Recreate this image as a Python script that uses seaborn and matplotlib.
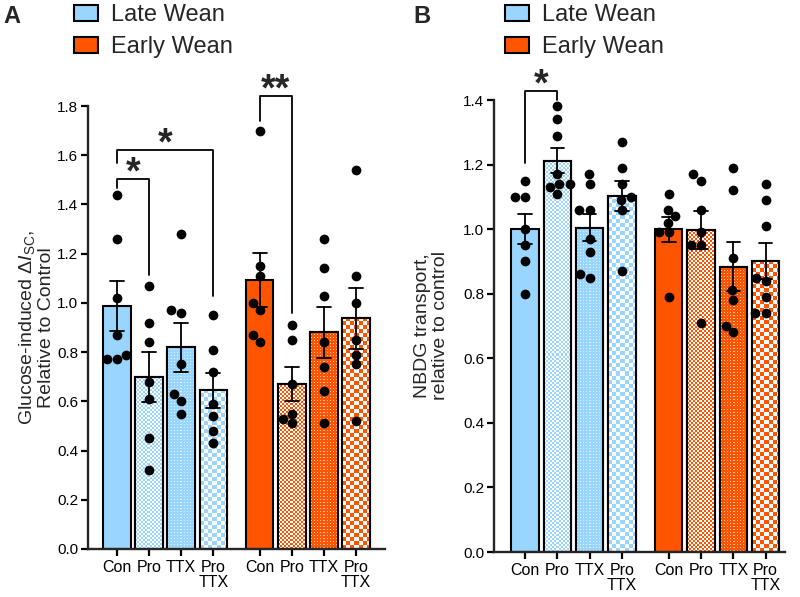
import numpy as np
import pandas as pd
import matplotlib
matplotlib.use("Agg")
import matplotlib.pyplot as plt
import seaborn as sns
from matplotlib.patches import Patch, Rectangle
from matplotlib.colors import to_rgb

sns.set_style("ticks")
plt.rcParams["font.family"] = ["Liberation Sans", "DejaVu Sans"]
plt.rcParams["mathtext.fontset"] = "custom"
plt.rcParams["mathtext.rm"] = "Liberation Sans"
plt.rcParams["mathtext.it"] = "Liberation Sans:italic"
plt.rcParams["mathtext.bf"] = "Liberation Sans:bold"

# ---------------- data ----------------
treatments = ["Con", "Pro", "TTX", "Pro\nTTX"]
groups = ["Late Wean", "Early Wean"]

# Panel A: glucose-induced dIsc relative to control (order: Con, Pro, TTX, Pro+TTX)
a_late_con = [1.44, 1.26, 1.02, 0.87, 0.79, 0.77, 0.77]
a_late_pro = [1.07, 0.92, 0.84, 0.68, 0.61, 0.45, 0.32]
a_late_ttx = [1.28, 0.96, 0.97, 0.75, 0.63, 0.55, 0.60]
a_late_prottx = [0.95, 0.81, 0.72, 0.59, 0.54, 0.48, 0.43]
a_early_con = [1.70, 1.15, 1.11, 1.00, 0.97, 0.87, 0.84]
a_early_pro = [0.91, 0.85, 0.67, 0.55, 0.51, 0.53]
a_early_ttx = [1.26, 1.14, 1.03, 0.84, 0.74, 0.64, 0.51]
a_early_prottx = [1.54, 1.11, 1.00, 0.85, 0.79, 0.75, 0.52]

# Panel B: NBDG transport relative to control
b_late_con = [1.15, 1.10, 1.10, 1.00, 0.95, 0.90, 0.80]
b_late_pro = [1.38, 1.34, 1.29, 1.17, 1.14, 1.14, 1.13, 1.11]
b_late_ttx = [1.17, 1.14, 1.06, 1.06, 0.97, 0.93, 0.85, 0.86]
b_late_prottx = [1.27, 1.19, 1.14, 1.10, 1.09, 1.06, 0.87]
b_early_con = [1.11, 1.06, 1.04, 1.02, 0.99, 0.99, 0.79]
b_early_pro = [1.17, 1.15, 1.06, 0.99, 0.95, 0.95, 0.71]
b_early_ttx = [1.19, 1.12, 0.91, 0.81, 0.78, 0.70, 0.68]
b_early_prottx = [1.14, 1.09, 1.01, 0.85, 0.84, 0.79, 0.74, 0.74]

# significance annotations: (left bar, right bar, left leg end, top, right leg end, text)
a_sig = [(0, 1, 1.466, 1.505, 1.113, "*"),
         (0, 3, 1.57, 1.62, 1.03, "*"),
         (4, 5, 1.74, 1.84, 0.957, "**")]
b_sig = [(0, 1, 1.204, 1.428, 1.40, "*")]

# ---------------- style ----------------
group_colors = {"Late Wean": "#99D5FF", "Early Wean": "#FF5500"}
patterns = ["solid", "fine", "dots", "check"]
GROUP_GAP = 0.45
EDGE_LW = 1.5


def positions():
    return [gi * (len(treatments) + GROUP_GAP) + ti
            for gi in range(len(groups)) for ti in range(len(treatments))]


def build_df(late, early):
    rows = []
    for gi, (g, d) in enumerate(zip(groups, [late, early])):
        for ti, t in enumerate(treatments):
            for v in d[ti]:
                rows.append(dict(pos=gi * (len(treatments) + GROUP_GAP) + ti,
                                 value=v, bar=f"{g}|{t}"))
    return pd.DataFrame(rows)


def texture(ax, fig):
    fig.canvas.draw()
    renderer = fig.canvas.get_renderer()
    pos = positions()
    bars = list(ax.patches)
    for p in bars:
        xc = p.get_x() + p.get_width() / 2
        k = int(np.argmin([abs(xc - q) for q in pos]))
        gi, ti = divmod(k, len(treatments))
        kind = patterns[ti]
        base = np.array(to_rgb(group_colors[groups[gi]]))
        if kind == "solid":
            continue
        bb = p.get_window_extent(renderer)
        nx = max(1, int(round(bb.width)))
        ny = max(1, int(round(bb.height)))
        jj, ii = np.meshgrid(np.arange(nx), np.arange(ny))
        white = np.ones(3)
        if kind == "fine":
            mask = ((ii // 2 + jj // 2) % 2 == 0)
            img = np.where(mask[..., None], base, white)
        elif kind == "dots":
            mask = (ii % 3 == 1) & (jj % 3 == 1)
            dot = base * 0.35 + 0.65
            img = np.where(mask[..., None], dot, base)
        else:
            c = 4
            mask = ((ii // c + jj // c) % 2 == 0)
            img = np.where(mask[..., None], base, white)
        x0, y0, w, h = p.get_x(), p.get_y(), p.get_width(), p.get_height()
        im = ax.imshow(img, extent=(x0, x0 + w, y0, y0 + h), origin="lower",
                       interpolation="nearest", aspect="auto", zorder=1.05)
        im.set_clip_path(p)
        ax.add_patch(Rectangle((x0, y0), w, h, fill=False, edgecolor="black",
                               lw=EDGE_LW, zorder=1.1))


def draw_panel(fig, rect, late, early, ymax, ylabel, xlim, sig, label_x):
    ax = fig.add_axes(rect)
    df = build_df(late, early)
    pal = {f"{g}|{t}": group_colors[g] for g in groups for t in treatments}
    sns.barplot(data=df, x="pos", y="value", hue="bar", palette=pal,
                saturation=1, native_scale=True, dodge=False, errorbar="se",
                capsize=0.42, width=0.85,
                err_kws={"color": "black", "linewidth": 1.3},
                edgecolor="black", linewidth=EDGE_LW, legend=False, ax=ax)
    sns.swarmplot(data=df, x="pos", y="value", native_scale=True,
                  color="black", size=7, ax=ax, zorder=3)
    ax.set_xlim(*xlim)
    ax.set_ylim(0, ymax)
    ax.set_yticks(np.round(np.arange(0, ymax + 0.001, 0.2), 1))
    ax.set_yticklabels([f"{v:.1f}" for v in np.arange(0, ymax + 0.001, 0.2)])
    ax.set_xticks(positions())
    ax.set_xticklabels(treatments * len(groups))
    ax.set_xlabel("")
    ax.set_ylabel(ylabel, fontsize=14, linespacing=1.1)
    ax.yaxis.set_label_coords(label_x, 0.5)
    ax.spines[["top", "right"]].set_visible(False)
    for s in ["left", "bottom"]:
        ax.spines[s].set_linewidth(1.7)
    ax.tick_params(axis="y", direction="out", length=5, width=1.6,
                   labelsize=11, pad=2, colors="black")
    ax.tick_params(axis="x", direction="out", length=5, width=1.6,
                   labelsize=11.5, pad=3, colors="black")
    for lab in ax.get_xticklabels():
        lab.set_linespacing(1.0)
    texture(ax, fig)
    pos = positions()
    for i1, i2, yl, yt, yr, txt in sig:
        ax.plot([pos[i1], pos[i1], pos[i2], pos[i2]], [yl, yt, yt, yr],
                color="black", lw=1.3, clip_on=False, zorder=4)
        ax.annotate(txt, xy=((pos[i1] + pos[i2]) / 2, yt), xytext=(0, -3.3),
                    textcoords="offset points", ha="center", va="baseline",
                    fontsize=27, fontweight="bold", annotation_clip=False)
    return ax


W, H = 800, 597
fig = plt.figure(figsize=(W / 100, H / 100), dpi=100)

axA = draw_panel(fig, [88 / W, 48 / H, 297 / W, 443 / H],
                 [a_late_con, a_late_pro, a_late_ttx, a_late_prottx],
                 [a_early_con, a_early_pro, a_early_ttx, a_early_prottx],
                 1.8, "Glucose-induced $\\mathit{\\Delta I}_{\\mathrm{SC}}$,\nRelative to Control",
                 (-0.9, 8.35), a_sig, -0.11)
axB = draw_panel(fig, [494 / W, 45 / H, 291 / W, 452 / H],
                 [b_late_con, b_late_pro, b_late_ttx, b_late_prottx],
                 [b_early_con, b_early_pro, b_early_ttx, b_early_prottx],
                 1.4, "NBDG transport,\nrelative to control",
                 (-0.96, 8.05), b_sig, -0.155)

handles = [Patch(facecolor=group_colors[g], edgecolor="black", linewidth=1.5) for g in groups]
for ax, lx in [(axA, 74), (axB, 505)]:
    ax.legend(handles, groups, loc="upper left", bbox_to_anchor=(lx / W, 1 - 4 / H),
              bbox_transform=fig.transFigure, frameon=False, fontsize=17,
              handlelength=1.0, handleheight=0.68, handletextpad=0.55,
              labelspacing=0.42, borderpad=0, borderaxespad=0)

fig.text(3 / W, 1 - 5 / H, "A", fontsize=17, fontweight="bold", va="top", ha="left")
fig.text(413 / W, 1 - 5 / H, "B", fontsize=17, fontweight="bold", va="top", ha="left")

fig.savefig("out.png", dpi=100)
